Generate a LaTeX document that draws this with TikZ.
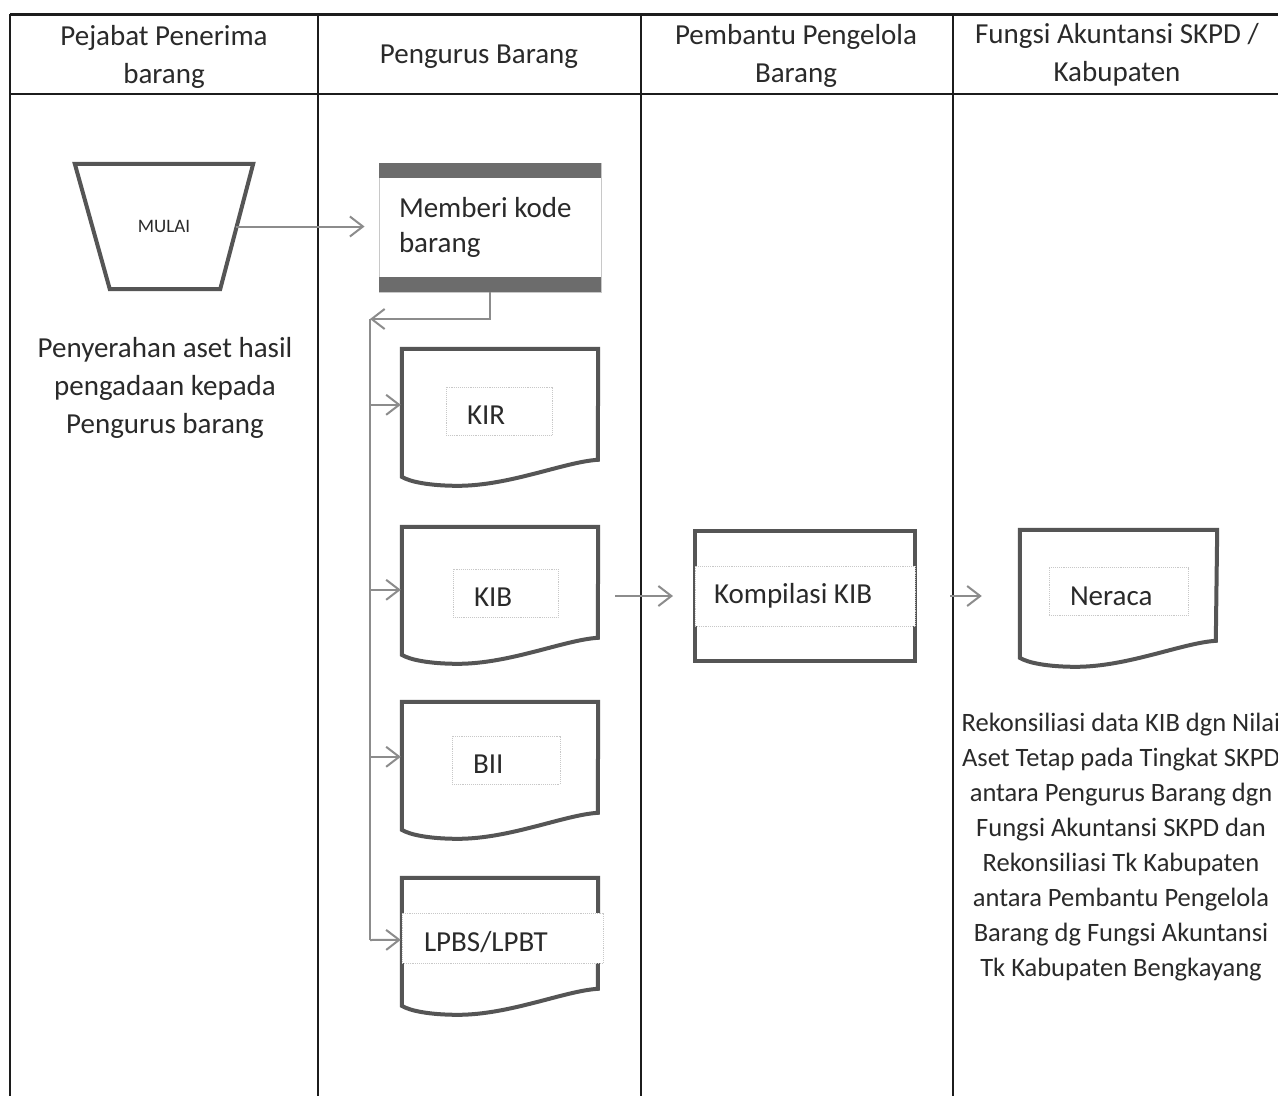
\documentclass[tikz,border=0pt]{standalone}
\usepackage{fontspec}
\setmainfont{Carlito}
\usetikzlibrary{arrows.meta,calc}
\definecolor{ink}{HTML}{2A2A2A}
\definecolor{rule}{HTML}{1C1C1C}
\definecolor{shapeline}{HTML}{555555}
\definecolor{connline}{HTML}{8C8C8C}
\definecolor{bandgray}{HTML}{6C6C6C}
\definecolor{dotgray}{HTML}{C8C8C8}

% document symbol with a wavy lower edge, drawn around a named frame node
\newcommand\docoutline[1]{%
  \draw[docfrm] (#1.north west) -- (#1.north east) -- ($(#1.north west)+(196,111)$)
    .. controls ($(#1.north west)+(163,113)$) and ($(#1.north west)+(108,137)$) .. ($(#1.north west)+(56,137)$)
    .. controls ($(#1.north west)+(28,137)$) and ($(#1.north west)+(8,133)$) .. ($(#1.north west)+(0,128)$)
    -- cycle;}

\begin{document}
\begin{tikzpicture}[x=1pt,y=-1pt,
  lane/.style={draw=rule, line width=1.8pt},
  headtxt/.style={text=ink, align=center, font=\fontsize{29}{38}\selectfont},
  bodytxt/.style={text=ink, align=center, font=\fontsize{29}{38}\selectfont},
  notetxt/.style={text=ink, align=center, font=\fontsize{26.5}{35}\selectfont},
  docfrm/.style={draw=shapeline, line width=4pt},
  docnode/.style={inner sep=0pt, minimum width=196pt, minimum height=137pt},
  innerbox/.style={draw=dotgray, densely dotted, line width=0.9pt, fill=white, text=ink,
    inner xsep=21pt, inner ysep=0pt, align=flush left, minimum height=48pt,
    font=\fontsize{29}{35}\selectfont},
  lowtext/.style={text height=27pt, text depth=0pt},
  conn/.style={draw=connline, line width=2pt, -{Straight Barb[length=13pt,width=20pt]}},
  busline/.style={draw=connline, line width=2pt},
]
\useasboundingbox (0,0) rectangle (1278,1096);
\clip (0,0) rectangle (1278,1096);
\fill[white] (0,0) rectangle (1278,1096);

% swimlane table
\draw[lane, line width=3pt] (10,14) -- (1278,14);
\draw[lane] (10,94) -- (1278,94);
\draw[lane] (10,14) -- (10,1096);
\draw[lane] (318,14) -- (318,1096);
\draw[lane] (641,14) -- (641,1096);
\draw[lane] (953,14) -- (953,1096);

\node[headtxt] (h1) at (164,57) {Pejabat Penerima\\barang};
\node[headtxt] (h2) at (479,57) {Pengurus Barang};
\node[headtxt] (h3) at (796,55.5) {Pembantu Pengelola\\Barang};
\node[headtxt] (h4) at (1117,55) {Fungsi Akuntansi SKPD /\\Kabupaten};

% start symbol
\node[inner sep=0pt, minimum width=178pt, minimum height=125pt, text=ink,
  font=\fontsize{19}{22}\selectfont] (mulai) at (164,226.5) {MULAI};
\draw[docfrm] (mulai.north west) -- (mulai.north east)
  -- ($(mulai.south east)+(-33,0)$) -- ($(mulai.south west)+(35,0)$) -- cycle;

\node[bodytxt] (serah) at (165,388) {Penyerahan aset hasil\\pengadaan kepada\\Pengurus barang};

% coding step
\node[draw=dotgray, line width=0.9pt, fill=white, minimum width=222pt, minimum height=129pt,
  inner xsep=20pt, text width=182pt, align=flush left, text=ink,
  font=\fontsize{29}{35}\selectfont] (memb) at (490,227.5) {Memberi kode\\barang};
\fill[bandgray] (memb.north west) rectangle ($(memb.north east)+(0,15)$);
\fill[bandgray] ($(memb.south west)+(0,-15)$) rectangle (memb.south east);

% output documents
\node[docnode] (kir) at (500,417.5) {};
\node[docnode] (kib) at (500,595.5) {};
\node[docnode] (bii) at (500,770.5) {};
\node[docnode] (lpb) at (500,946.5) {};
\node[docnode, minimum width=197pt] (ner) at (1118.5,598.5) {};
\docoutline{kir}
\docoutline{kib}
\docoutline{bii}
\docoutline{lpb}
\docoutline{ner}

\node[innerbox, lowtext, text width=64pt] (kirt) at (499,411) {KIR};
\node[innerbox, lowtext, text width=63pt] (kibt) at (505.5,593) {KIB};
\node[innerbox, lowtext, text width=66pt] (biit) at (506,760) {BII};
\node[innerbox, lowtext, text width=97pt] (nert) at (1118.5,591.5) {Neraca};
\node[innerbox, lowtext, text width=157pt, inner xsep=22pt, minimum height=50pt] (lpbt) at (502.5,938) {LPBS/LPBT};

% compilation step
\node[draw=shapeline, line width=4pt, minimum width=220pt, minimum height=130pt] (komp) at (805,596) {};
\node[innerbox, text width=182pt, inner xsep=19pt, minimum height=60pt] (kompt) at (805,596) {Kompilasi KIB};

\node[notetxt] (rek) at (1121,847.5) {Rekonsiliasi data KIB dgn Nilai\\Aset Tetap pada Tingkat SKPD\\antara Pengurus Barang dgn\\Fungsi Akuntansi SKPD dan\\Rekonsiliasi Tk Kabupaten\\antara Pembantu Pengelola\\Barang dg Fungsi Akuntansi\\Tk Kabupaten Bengkayang};

% connectors
\coordinate (bus) at (370,319);
\coordinate (busend) at (370,940);
\coordinate (inkir) at ($(kir.north west)+(0,56)$);
\coordinate (inkib) at ($(kib.north west)+(0,63)$);
\coordinate (inbii) at ($(bii.north west)+(0,55)$);
\coordinate (inlpb) at ($(lpb.north west)+(0,62)$);

\draw[conn, shorten <=-17pt, shorten >=14pt] (mulai.east) -- (memb.west |- mulai.east);
\draw[conn] (memb.south) |- (bus);
\draw[busline] (bus) -- (busend);
\draw[conn, shorten >=1pt] (bus |- inkir) -- (inkir);
\draw[conn, shorten >=1pt] (bus |- inkib) -- (inkib);
\draw[conn, shorten >=1pt] (bus |- inbii) -- (inbii);
\draw[conn, shorten >=1pt] (busend) -- (inlpb);
\draw[conn, shorten <=17pt, shorten >=20pt] (kib.east |- komp.west) -- (komp.west);
\draw[conn, shorten <=33pt, shorten >=38pt] (komp.east) -- (ner.west |- komp.east);
\end{tikzpicture}
\end{document}
